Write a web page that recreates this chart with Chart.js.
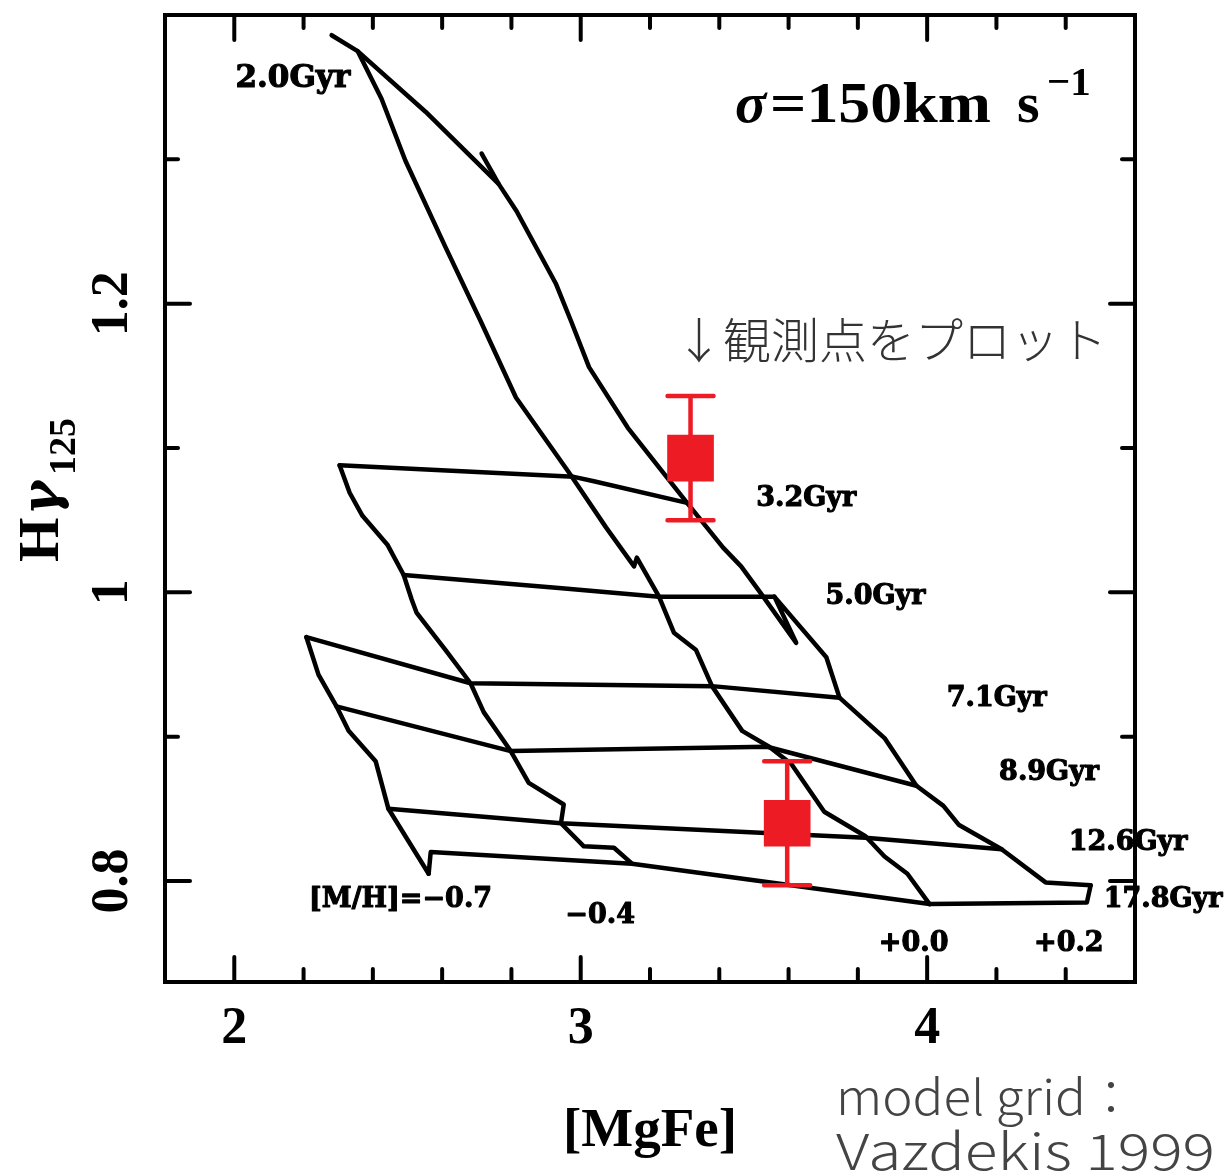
<!DOCTYPE html>
<html>
<head>
<meta charset="utf-8">
<title>Hγ125 – [MgFe]</title>
<script src="https://cdn.jsdelivr.net/npm/chart.js@4"></script>
<style>
  html, body { margin: 0; padding: 0; background: #fff; }
  canvas { display: block; }
</style>
</head>
<body>
<canvas id="chart" width="1224" height="1175"></canvas>
<script>
// Hγ125 against [MgFe] with the Vazdekis (1999) model grid for σ = 150 km/s.
// Every grid line is a list of [MgFe, Hγ125] pairs.

// Lines of constant metallicity, young → old
const trackMHm07 = [[2.208,0.969],[2.243,0.943],[2.295,0.921],[2.330,0.904],[2.408,0.883],[2.445,0.850],[2.561,0.805]];
const trackMHm04 = [[2.304,1.088],[2.333,1.069],[2.370,1.053],[2.442,1.033],[2.489,1.012],[2.512,0.995],[2.526,0.986],
                    [2.610,0.960],[2.682,0.937],[2.720,0.917],[2.798,0.890],[2.850,0.868],[2.951,0.853],[2.943,0.840],
                    [3.009,0.824],[3.096,0.823],[3.148,0.812]];
const trackMHp00 = [[2.281,1.386],[2.356,1.375],[2.425,1.342],[2.494,1.299],[2.610,1.239],[2.711,1.188],[2.813,1.135],
                    [2.966,1.083],[3.073,1.045],[3.154,1.018],[3.162,1.024],[3.226,0.997],[3.269,0.972],[3.333,0.960],
                    [3.379,0.935],[3.466,0.904],[3.544,0.893],[3.608,0.881],[3.703,0.848],[3.822,0.831],[3.877,0.817],
                    [3.943,0.805],[4.007,0.784]];
const trackMHp02 = [[2.714,1.304],[2.763,1.283],[2.815,1.264],[2.928,1.214],[2.972,1.188],[3.024,1.156],[3.136,1.114],
                    [3.307,1.062],[3.411,1.031],[3.463,1.018],[3.518,1.000],[3.622,0.965],[3.559,0.997],[3.709,0.955],
                    [3.747,0.927],[3.877,0.899],[3.969,0.866],[4.047,0.852],[4.091,0.839],[4.215,0.822],[4.342,0.799],
                    [4.472,0.797]];

// Isochrones, metal-poor → metal-rich
const iso20  = [[2.356,1.375],[2.552,1.333],[2.763,1.283]];
const iso32  = [[2.304,1.088],[2.980,1.080],[3.038,1.077],[3.307,1.062]];
const iso50  = [[2.489,1.012],[2.937,1.003],[3.226,0.997],[3.559,0.997]];
const iso71  = [[2.208,0.969],[2.682,0.937],[3.379,0.935],[3.747,0.927]];
const iso89  = [[2.295,0.921],[2.798,0.890],[3.538,0.893],[3.969,0.866]];
const iso126 = [[2.445,0.850],[2.943,0.840],[3.822,0.830],[4.215,0.822]];
const iso178 = [[2.561,0.805],[2.567,0.820],[3.148,0.812],[4.007,0.784],[4.461,0.785],[4.472,0.797]];

// Measured indices with their 1σ errors
const obsMgFe = [3.317, 3.596];
const obsHg   = [1.093, 0.840];
const obsErr  = [0.043, 0.043];

// Axis ticks
const xLabelTicks = [2, 3, 4];
const xMinorTicks = [2.2, 2.4, 2.6, 2.8, 3.2, 3.4, 3.6, 3.8, 4.2, 4.4];
const yLabelTicks = [0.8, 1.0, 1.2];
const yMinorTicks = [0.9, 1.1, 1.3];

// Grid labels and where they sit (text centre, data units)
const ageNames   = ['2.0Gyr', '3.2Gyr', '5.0Gyr', '7.1Gyr', '8.9Gyr', '12.6Gyr', '17.8Gyr'];
const ageAnchors = [[2.169,1.356],[3.651,1.065],[3.851,0.9965],[4.201,0.926],[4.352,0.875],[4.580,0.826],[4.681,0.787]];
const mhNames    = ['[M/H]=\u22120.7', '\u22120.4', '+0.0', '+0.2'];
const mhAnchors  = [[2.480,0.787],[3.056,0.776],[3.961,0.756],[4.409,0.756]];

const SERIF = '"Liberation Serif", "Times New Roman", serif';
const LABEL_SERIF = '"DejaVu Serif", serif';
const JP = '"Noto Sans CJK JP", "Noto Sans", sans-serif';
const RED = '#ed1c24';

const toXY = pts => pts.map(([x, y]) => ({ x, y }));
const gridLines = [trackMHm07, trackMHm04, trackMHp00, trackMHp02, iso20, iso32, iso50, iso71, iso89, iso126, iso178];

const gridDatasets = gridLines.map(pts => ({
  data: toXY(pts),
  showLine: true,
  borderColor: '#000',
  borderWidth: 4.5,
  borderJoinStyle: 'round',
  borderCapStyle: 'round',
  pointRadius: 0,
  pointHoverRadius: 0,
  fill: false,
  tension: 0,
  order: 2
}));

const obsDataset = {
  data: obsMgFe.map((x, i) => ({ x, y: obsHg[i] })),
  showLine: false,
  pointStyle: 'rect',
  pointRadius: 33,
  pointHoverRadius: 33,
  backgroundColor: RED,
  borderWidth: 0,
  order: 1
};

// Frame with inward ticks on all four sides, plus the rotated y tick labels
const frameTicks = {
  id: 'frameTicks',
  afterDatasetsDraw(chart) {
    const { ctx, chartArea: a, scales: { x, y } } = chart;
    ctx.save();
    ctx.strokeStyle = '#000';
    ctx.lineWidth = 4;
    ctx.lineCap = 'round';
    const seg = (x1, y1, x2, y2) => { ctx.beginPath(); ctx.moveTo(x1, y1); ctx.lineTo(x2, y2); ctx.stroke(); };
    const xt = (v, len) => { const p = x.getPixelForValue(v); seg(p, a.bottom, p, a.bottom - len); seg(p, a.top, p, a.top + len); };
    const yt = (v, len) => { const p = y.getPixelForValue(v); seg(a.left, p, a.left + len, p); seg(a.right, p, a.right - len, p); };
    xLabelTicks.forEach(v => xt(v, 25));
    xMinorTicks.forEach(v => xt(v, 13));
    yLabelTicks.forEach(v => yt(v, 25));
    yMinorTicks.forEach(v => yt(v, 13));
    ctx.lineCap = 'butt';
    ctx.strokeRect(a.left, a.top, a.right - a.left, a.bottom - a.top);

    ctx.fillStyle = '#000';
    ctx.font = `bold 52px ${SERIF}`;
    ctx.textAlign = 'center';
    ctx.textBaseline = 'middle';
    yLabelTicks.forEach(v => {
      ctx.save();
      ctx.translate(a.left - 51, y.getPixelForValue(v));
      ctx.rotate(-Math.PI / 2);
      ctx.fillText(v === 1 ? '1' : v.toFixed(1), 0, 0);
      ctx.restore();
    });
    ctx.restore();
  }
};

// Vertical error bars with caps for the measured points
const errorBars = {
  id: 'errorBars',
  afterDatasetsDraw(chart) {
    const { ctx, scales: { x, y } } = chart;
    ctx.save();
    ctx.strokeStyle = RED;
    ctx.lineWidth = 4.5;
    ctx.lineCap = 'round';
    obsMgFe.forEach((mx, i) => {
      const px = x.getPixelForValue(mx);
      const top = y.getPixelForValue(obsHg[i] + obsErr[i]);
      const bot = y.getPixelForValue(obsHg[i] - obsErr[i]);
      ctx.beginPath();
      ctx.moveTo(px, top); ctx.lineTo(px, bot);
      ctx.moveTo(px - 23, top); ctx.lineTo(px + 23, top);
      ctx.moveTo(px - 23, bot); ctx.lineTo(px + 23, bot);
      ctx.stroke();
    });
    ctx.restore();
  }
};

// Draws a string squeezed or stretched to a given width, starting at x
function fitText(ctx, text, x, yBase, width) {
  const s = width / ctx.measureText(text).width;
  ctx.save();
  ctx.translate(x, yBase);
  ctx.scale(s, 1);
  ctx.fillText(text, 0, 0);
  ctx.restore();
}

// Text on and around the diagram
const annotations = {
  id: 'annotations',
  afterDraw(chart) {
    const { ctx, scales: { x, y } } = chart;
    ctx.save();
    ctx.fillStyle = '#000';
    ctx.strokeStyle = '#000';
    ctx.lineWidth = 1.1;
    ctx.lineJoin = 'round';
    ctx.textAlign = 'center';
    ctx.textBaseline = 'middle';

    ageNames.forEach((t, i) => {
      ctx.font = `bold ${i === 0 ? 31 : 27}px ${LABEL_SERIF}`;
      const px = x.getPixelForValue(ageAnchors[i][0]), py = y.getPixelForValue(ageAnchors[i][1]);
      ctx.fillText(t, px, py);
      ctx.strokeText(t, px, py);
    });
    ctx.font = `bold 27px ${LABEL_SERIF}`;
    mhNames.forEach((t, i) => {
      const px = x.getPixelForValue(mhAnchors[i][0]), py = y.getPixelForValue(mhAnchors[i][1]);
      ctx.fillText(t, px, py);
      ctx.strokeText(t, px, py);
    });

    // velocity dispersion of the models
    ctx.textAlign = 'left';
    ctx.textBaseline = 'alphabetic';
    ctx.font = `italic bold 58px ${SERIF}`;
    ctx.fillText('\u03c3', 735, 122);
    ctx.font = `bold 58px ${SERIF}`;
    fitText(ctx, '=150km', 770, 122, 221);
    ctx.fillText('s', 1017, 122);
    ctx.font = `bold 41px ${SERIF}`;
    ctx.fillText('\u22121', 1047, 95);

    // y-axis title: Hγ with subscript 125
    ctx.save();
    ctx.translate(58, 562);
    ctx.rotate(-Math.PI / 2);
    ctx.font = `bold 57px ${SERIF}`;
    ctx.fillText('H', 0, 0);
    ctx.font = `italic bold 52px ${LABEL_SERIF}`;
    const gw = ctx.measureText('\u03b3').width;
    ctx.fillText('\u03b3', 42 + (44 - gw) / 2, 0);
    ctx.font = `bold 38px ${SERIF}`;
    ctx.fillText('125', 87, 17);
    ctx.restore();

    // note pointing at the measured points
    ctx.fillStyle = '#333';
    ctx.textBaseline = 'middle';
    ctx.font = `300 48px ${JP}`;
    ctx.fillText('\u2193観測点をプロット', 675, 340);

    // model reference
    ctx.fillStyle = '#444';
    ctx.textBaseline = 'alphabetic';
    ctx.font = `300 48px ${JP}`;
    fitText(ctx, 'model grid', 836, 1115, 250);
    ctx.fillText('\uff1a', 1087, 1115);
    ctx.font = `300 50px ${JP}`;
    fitText(ctx, 'Vazdekis 1999', 836, 1170, 379);

    ctx.restore();
  }
};

const zeroPadding = s => { s.paddingTop = 0; s.paddingBottom = 0; s.paddingLeft = 0; s.paddingRight = 0; };

new Chart(document.getElementById('chart'), {
  type: 'scatter',
  data: { datasets: [...gridDatasets, obsDataset] },
  options: {
    responsive: false,
    devicePixelRatio: 1,
    animation: false,
    events: [],
    layout: { autoPadding: false, padding: { top: 15, right: 89, bottom: 0, left: 0 } },
    plugins: { legend: { display: false }, tooltip: { enabled: false } },
    scales: {
      x: {
        type: 'linear',
        min: 1.8,
        max: 4.6,
        grid: { display: false, drawTicks: false },
        border: { display: false },
        afterBuildTicks: s => { s.ticks = xLabelTicks.map(v => ({ value: v })); },
        afterFit: s => { s.height = 193; zeroPadding(s); },
        ticks: {
          autoSkip: false,
          maxRotation: 0,
          padding: 22,
          color: '#000',
          font: { family: SERIF, size: 52, weight: 'bold', lineHeight: 1 },
          callback: v => String(v)
        },
        title: {
          display: true,
          text: '[MgFe]',
          color: '#000',
          font: { family: SERIF, size: 55, weight: 'bold', lineHeight: 1 },
          padding: { top: 0, bottom: 16 }
        }
      },
      y: {
        type: 'linear',
        min: 0.73,
        max: 1.4,
        grid: { display: false, drawTicks: false },
        border: { display: false },
        ticks: { display: false },
        afterFit: s => { s.width = 165; zeroPadding(s); }
      }
    }
  },
  plugins: [frameTicks, errorBars, annotations]
});
</script>
</body>
</html>
